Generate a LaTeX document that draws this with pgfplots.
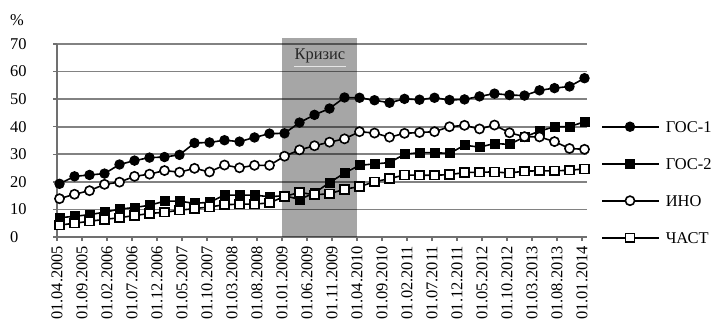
\documentclass[border=0pt]{standalone}
\usepackage{pgfplots}
\pgfplotsset{compat=1.18}
\usepackage{pgfplotstable}
\usepackage{fontspec}
\setmainfont{Liberation Serif}
\definecolor{gridgray}{HTML}{828282}
\definecolor{axgray}{HTML}{707070}
\pgfplotstableread{
x g1 g2 ino chast
0 19.3 7.0 13.9 4.3
3 22.0 7.5 15.5 5.0
6 22.5 8.1 16.8 5.7
9 23.0 9.0 19.1 6.4
12 26.3 10.1 19.9 7.0
15 27.7 10.7 22.0 7.8
18 28.8 11.5 22.8 8.5
21 29.0 13.0 24.1 9.0
24 29.8 13.0 23.5 9.7
27 34.1 12.2 24.9 10.3
30 34.3 12.6 23.6 10.9
33 35.1 15.2 26.1 11.7
36 34.6 15.2 25.1 11.9
39 36.1 15.2 26.0 11.9
42 37.5 14.6 26.0 12.4
45 37.6 15.0 29.3 14.7
48 41.5 13.6 31.6 16.2
51 44.3 16.0 33.1 15.3
54 46.6 19.7 34.4 15.7
57 50.6 23.2 35.6 17.3
60 50.5 26.0 38.2 18.3
63 49.6 26.5 37.7 20.0
66 48.7 27.0 36.2 21.2
69 50.1 30.0 37.6 22.5
72 49.8 30.6 37.9 22.4
75 50.5 30.6 38.2 22.4
78 49.7 30.3 40.0 22.6
81 49.9 33.3 40.5 23.4
84 51.0 32.6 39.2 23.5
87 52.0 33.9 40.6 23.6
90 51.5 33.6 37.8 23.2
93 51.3 36.3 36.4 23.9
96 53.2 38.4 36.3 24.0
99 54.0 40.0 34.6 24.0
102 54.6 40.0 32.1 24.2
105 57.6 41.8 31.8 24.7
}\datatable
\begin{document}
\begin{tikzpicture}[font=\fontsize{16.5}{19}\selectfont]
\begin{axis}[
  at={(57bp,91bp)}, anchor=south west,
  width=530bp, height=193bp, scale only axis,
  xmin=-0.5, xmax=105.5, ymin=0, ymax=70,
  axis x line*=bottom, axis y line*=left,
  axis line style={axgray, line width=2bp, -},
  xtick={-0.5,4.5,...,104.5},
  xticklabels={01.04.2005,01.09.2005,01.02.2006,01.07.2006,01.12.2006,01.05.2007,01.10.2007,01.03.2008,01.08.2008,01.01.2009,01.06.2009,01.11.2009,01.04.2010,01.09.2010,01.02.2011,01.07.2011,01.12.2011,01.05.2012,01.10.2012,01.03.2013,01.08.2013,01.01.2014},
  xticklabel style={rotate=90, anchor=east, inner sep=0pt, outer sep=0pt, font=\fontsize{16.5}{19}\selectfont},
  xticklabel shift=5bp,
  ytick={0,10,...,70},
  yticklabel style={anchor=west, inner sep=0pt, xshift=-43bp, font=\fontsize{16.5}{19}\selectfont},
  /pgf/number format/assume math mode=true,
  ymajorgrids, grid style={gridgray, line width=1.8bp},
  tick style={axgray, line width=1.4bp},
  tick align=outside, major tick length=4bp,
  clip=false,
  legend style={at={(axis description cs:1,1)}, anchor=north west,
    xshift=14bp, yshift=-77bp, draw=none, fill=none, inner sep=0pt,
    row sep=26bp, font=\fontsize{16.5}{19}\selectfont,
    nodes={inner sep=0pt, text height=11bp, text depth=0bp},
    /tikz/every odd column/.append style={column sep=6bp}},
  legend cell align=left,
  legend image code/.code={\draw[mark repeat=2,mark phase=2,#1] plot coordinates {(0bp,0bp) (28bp,0bp) (57bp,0bp)};},
  every axis plot/.append style={black, line width=1.6bp},
]
\fill[black, fill opacity=0.35] (axis cs:44.5,0) rectangle (axis cs:59.5,72.1);
\draw[color=white!80!gray, line width=0.8bp] (axis cs:46.9,62) -- (axis cs:57.3,62);
\node[text=black!85] at (axis cs:52.1,65.6) {Кризис};
\addplot[mark=*, mark size=4.7bp, mark options={solid, fill=black, line width=1pt}] table[x=x, y=g1] {\datatable};
\addlegendentry{ГОС-1}
\addplot[mark=square*, mark size=4.5bp, mark options={solid, fill=black, line width=1pt}] table[x=x, y=g2] {\datatable};
\addlegendentry{ГОС-2}
\addplot[mark=*, mark size=4.6bp, mark options={solid, fill=white, line width=1.6bp}] table[x=x, y=ino] {\datatable};
\addlegendentry{ИНО}
\addplot[mark=square*, mark size=4.4bp, mark options={solid, fill=white, line width=1.6bp}] table[x=x, y=chast] {\datatable};
\addlegendentry{ЧАСТ}
\end{axis}
\node[anchor=west, inner sep=0pt] at (10bp,308bp) {\%};
\pgfresetboundingbox
\path (0,0) rectangle (716bp,328bp);
\end{tikzpicture}
\end{document}
